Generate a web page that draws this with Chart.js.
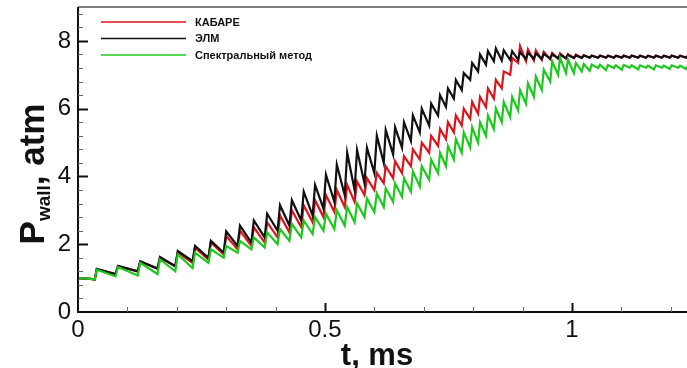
<!DOCTYPE html>
<html>
<head>
<meta charset="utf-8">
<script src="https://cdn.jsdelivr.net/npm/chart.js@4.4.1/dist/chart.umd.min.js"></script>
<style>
  html, body { margin: 0; padding: 0; background: #fff; }
  #wrap { width: 687px; height: 368px; }
</style>
</head>
<body>
<div id="wrap"><canvas id="pressure-chart" width="687" height="368"></canvas></div>
<script>
// time, ms (trough / peak pairs of the pressure pulses)
const tGrid = [
  0, 0.025,
  0.034, 0.038, 0.076, 0.081, 0.121, 0.126, 0.161, 0.166, 0.197, 0.202,
  0.232, 0.237, 0.264, 0.269, 0.295, 0.300, 0.323, 0.328, 0.351, 0.356,
  0.378, 0.383, 0.404, 0.409, 0.428, 0.433, 0.452, 0.457, 0.475, 0.480,
  0.497, 0.502, 0.519, 0.524, 0.540, 0.545, 0.560, 0.565, 0.580, 0.585,
  0.600, 0.605, 0.619, 0.623, 0.638, 0.642, 0.656, 0.660, 0.674, 0.678,
  0.692, 0.696, 0.711, 0.715, 0.729, 0.733, 0.745, 0.749, 0.761, 0.765,
  0.777, 0.781, 0.794, 0.798, 0.810, 0.814, 0.826, 0.830, 0.842, 0.846,
  0.858, 0.862, 0.875, 0.879, 0.891, 0.895, 0.907, 0.911, 0.923, 0.927,
  0.939, 0.943, 0.956, 0.960, 0.972, 0.976, 0.988, 0.992, 1.004, 1.008,
  1.020, 1.024, 1.036, 1.040, 1.053, 1.057, 1.069, 1.073, 1.085, 1.089,
  1.101, 1.105, 1.117, 1.121, 1.134, 1.138, 1.150, 1.154, 1.166, 1.170,
  1.182, 1.186, 1.198, 1.202, 1.215, 1.219, 1.231, 1.235,
  1.25
];

// P_wall, atm
const pKabare = [
  1.00, 0.98,
  0.96, 1.26, 1.12, 1.35, 1.20, 1.48, 1.28, 1.60, 1.35, 1.75,
  1.45, 1.90, 1.55, 2.05, 1.70, 2.25, 1.85, 2.40, 1.95, 2.50,
  2.05, 2.65, 2.20, 2.85, 2.35, 3.00, 2.50, 3.15, 2.65, 3.30,
  2.80, 3.45, 2.95, 3.60, 3.10, 3.75, 3.25, 3.85, 3.45, 3.95,
  3.60, 4.10, 3.80, 4.30, 3.95, 4.45, 4.10, 4.60, 4.30, 4.80,
  4.50, 5.00, 4.70, 5.20, 4.90, 5.40, 5.10, 5.60, 5.30, 5.80,
  5.50, 6.00, 5.70, 6.20, 5.85, 6.35, 6.05, 6.60, 6.30, 6.85,
  6.60, 7.10, 7.00, 7.50, 7.35, 7.85, 7.40, 7.75, 7.42, 7.72,
  7.44, 7.68, 7.46, 7.65, 7.47, 7.63, 7.48, 7.61, 7.49, 7.60,
  7.50, 7.58, 7.50, 7.57, 7.51, 7.56, 7.50, 7.57, 7.51, 7.56,
  7.50, 7.57, 7.51, 7.56, 7.50, 7.57, 7.51, 7.56, 7.50, 7.57,
  7.51, 7.56, 7.50, 7.57, 7.51, 7.56, 7.50, 7.57,
  7.54
];

const pElm = [
  1.00, 0.98,
  0.96, 1.27, 1.12, 1.36, 1.20, 1.50, 1.28, 1.62, 1.35, 1.80,
  1.50, 1.95, 1.60, 2.10, 1.75, 2.38, 1.95, 2.55, 2.05, 2.70,
  2.20, 2.90, 2.40, 3.15, 2.55, 3.30, 2.70, 3.55, 2.85, 3.75,
  3.05, 4.05, 3.25, 4.35, 3.45, 4.70, 3.60, 4.78, 3.80, 4.85,
  4.10, 5.20, 4.40, 5.37, 4.65, 5.45, 4.85, 5.60, 5.05, 5.80,
  5.30, 6.00, 5.50, 6.15, 5.80, 6.40, 6.05, 6.60, 6.30, 6.85,
  6.55, 7.05, 6.85, 7.35, 7.10, 7.60, 7.30, 7.70, 7.40, 7.78,
  7.42, 7.72, 7.44, 7.70, 7.45, 7.67, 7.46, 7.65, 7.47, 7.63,
  7.47, 7.62, 7.48, 7.60, 7.49, 7.59, 7.49, 7.58, 7.50, 7.57,
  7.50, 7.57, 7.51, 7.56, 7.50, 7.57, 7.51, 7.56, 7.50, 7.56,
  7.51, 7.56, 7.50, 7.57, 7.51, 7.56, 7.50, 7.56, 7.51, 7.56,
  7.50, 7.56, 7.51, 7.56, 7.50, 7.56, 7.51, 7.56,
  7.53
];

const pSpectral = [
  1.00, 0.98,
  0.96, 1.25, 1.05, 1.33, 1.08, 1.45, 1.12, 1.55, 1.20, 1.70,
  1.30, 1.75, 1.45, 1.85, 1.60, 1.95, 1.75, 2.10, 1.85, 2.20,
  1.90, 2.35, 2.00, 2.45, 2.10, 2.60, 2.20, 2.70, 2.30, 2.80,
  2.40, 2.90, 2.45, 3.00, 2.55, 3.10, 2.65, 3.20, 2.80, 3.35,
  2.95, 3.50, 3.10, 3.65, 3.25, 3.80, 3.40, 3.95, 3.55, 4.15,
  3.70, 4.30, 3.90, 4.50, 4.10, 4.70, 4.30, 4.90, 4.50, 5.10,
  4.70, 5.30, 4.85, 5.45, 5.00, 5.60, 5.20, 5.80, 5.40, 6.00,
  5.60, 6.20, 5.75, 6.35, 5.95, 6.55, 6.15, 6.75, 6.35, 6.95,
  6.55, 7.15, 6.80, 7.40, 7.00, 7.50, 7.05, 7.45, 7.05, 7.35,
  7.10, 7.32, 7.12, 7.30, 7.20, 7.30, 7.14, 7.29, 7.20, 7.28,
  7.15, 7.29, 7.21, 7.28, 7.16, 7.28, 7.21, 7.27, 7.16, 7.28,
  7.21, 7.27, 7.17, 7.28, 7.21, 7.27, 7.17, 7.27,
  7.24
];

const seriesLabels = ['КАБАРЕ', 'ЭЛМ', 'Спектральный метод'];
const seriesColors = ['#d8161e', '#111111', '#1ec81e'];
const xTicks = [0, 0.5, 1];
const yTicks = [0, 2, 4, 6, 8];

const FONT = '"Liberation Sans", Arial, Helvetica, sans-serif';

function toPoints(values) {
  return tGrid.map((t, i) => ({ x: t, y: values[i] }));
}

// frame, inward ticks, axis titles and legend
const framePlugin = {
  id: 'frame',
  afterDraw(chart) {
    const ctx = chart.ctx;
    const a = chart.chartArea;
    const xs = chart.scales.x;
    const ys = chart.scales.y;
    ctx.save();

    // top border
    ctx.strokeStyle = '#555';
    ctx.lineWidth = 1.5;
    ctx.beginPath();
    ctx.moveTo(a.left, a.top);
    ctx.lineTo(a.right, a.top);
    ctx.stroke();

    // axes
    ctx.strokeStyle = '#111';
    ctx.lineWidth = 2;
    ctx.beginPath();
    ctx.moveTo(a.left, a.top);
    ctx.lineTo(a.left, a.bottom);
    ctx.lineTo(a.right, a.bottom);
    ctx.stroke();

    // y ticks (inward)
    for (let k = 1; k <= 22; k++) {
      const v = k * 0.4;
      const major = k % 5 === 0;
      const y = Math.round(ys.getPixelForValue(v)) + 0.5;
      ctx.lineWidth = major ? 2 : 1;
      ctx.strokeStyle = major ? '#111' : '#666';
      ctx.beginPath();
      ctx.moveTo(a.left, y);
      ctx.lineTo(a.left + (major ? 10 : 5), y);
      ctx.stroke();
    }
    // x ticks (inward)
    for (let k = 1; k <= 12; k++) {
      const v = k * 0.1;
      const major = k % 5 === 0;
      const x = Math.round(xs.getPixelForValue(v)) + 0.5;
      ctx.lineWidth = major ? 2 : 1;
      ctx.strokeStyle = major ? '#111' : '#666';
      ctx.beginPath();
      ctx.moveTo(x, a.bottom);
      ctx.lineTo(x, a.bottom - (major ? 9 : 5));
      ctx.stroke();
    }

    // x title
    ctx.fillStyle = '#111';
    ctx.font = 'bold 31px ' + FONT;
    ctx.textAlign = 'center';
    ctx.textBaseline = 'alphabetic';
    ctx.fillText('t, ms', 377, 365);

    // y title with subscript
    const mainFont = 'bold 35px ' + FONT;
    const subFont = 'bold 19px ' + FONT;
    ctx.font = mainFont;
    const wP = ctx.measureText('P').width;
    const wRest = ctx.measureText(', atm').width;
    ctx.font = subFont;
    const wSub = ctx.measureText('wall').width;
    const total = wP + wSub + wRest;
    ctx.translate(44, 174);
    ctx.rotate(-Math.PI / 2);
    ctx.textAlign = 'left';
    let x0 = -total / 2;
    ctx.font = mainFont;
    ctx.fillText('P', x0, 0);
    x0 += wP;
    ctx.font = subFont;
    ctx.fillText('wall', x0, 6);
    x0 += wSub;
    ctx.font = mainFont;
    ctx.fillText(', atm', x0, 0);
    ctx.setTransform(1, 0, 0, 1, 0, 0);

    // legend
    ctx.font = 'bold 11px ' + FONT;
    ctx.textBaseline = 'middle';
    ctx.textAlign = 'left';
    chart.data.datasets.forEach((ds, i) => {
      const y = 22 + i * 16.5;
      ctx.strokeStyle = ds.borderColor;
      ctx.lineWidth = 1.5;
      ctx.beginPath();
      ctx.moveTo(101, y);
      ctx.lineTo(186, y);
      ctx.stroke();
      ctx.fillStyle = '#111';
      ctx.fillText(ds.label, 195, y + 0.5);
    });

    ctx.restore();
  }
};

const ctx = document.getElementById('pressure-chart').getContext('2d');

new Chart(ctx, {
  type: 'line',
  data: {
    datasets: [
      { label: seriesLabels[0], data: toPoints(pKabare), borderColor: seriesColors[0], order: 2 },
      { label: seriesLabels[1], data: toPoints(pElm), borderColor: seriesColors[1], order: 1 },
      { label: seriesLabels[2], data: toPoints(pSpectral), borderColor: seriesColors[2], order: 0 }
    ].map(ds => Object.assign(ds, {
      borderWidth: 2.2,
      pointRadius: 0,
      tension: 0,
      fill: false
    }))
  },
  options: {
    responsive: false,
    animation: false,
    devicePixelRatio: 1,
    layout: { padding: { left: 0, right: 0, top: 7, bottom: 0 } },
    plugins: {
      legend: { display: false },
      tooltip: { enabled: false },
      title: { display: false }
    },
    scales: {
      x: {
        type: 'linear',
        min: 0,
        max: 1.233,
        afterBuildTicks: s => { s.ticks = xTicks.map(v => ({ value: v })); },
        afterFit: s => {
          s.height = 56;
          s.paddingLeft = 0;
          s.paddingRight = 0;
        },
        grid: { display: false, drawTicks: false },
        border: { display: false },
        ticks: {
          font: { family: FONT, size: 24 },
          color: '#111',
          padding: 4,
          maxRotation: 0,
          autoSkip: false,
          callback: v => String(v)
        }
      },
      y: {
        min: 0,
        max: 9,
        afterBuildTicks: s => { s.ticks = yTicks.map(v => ({ value: v })); },
        afterFit: s => {
          s.width = 78;
          s.paddingTop = 0;
          s.paddingBottom = 0;
        },
        grid: { display: false, drawTicks: false },
        border: { display: false },
        ticks: {
          font: { family: FONT, size: 24 },
          color: '#111',
          padding: 7
        }
      }
    }
  },
  plugins: [framePlugin]
});
</script>
</body>
</html>
